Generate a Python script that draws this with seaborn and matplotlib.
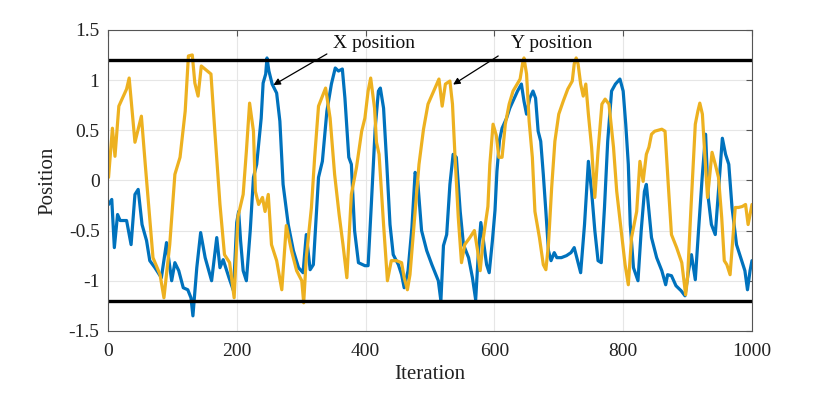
import matplotlib
matplotlib.use("Agg")
import matplotlib.pyplot as plt
import seaborn as sns

# X position (blue) trace: iteration, value
x_iter = [1, 6, 10, 15, 19, 29, 36, 42, 47, 53, 60, 65, 73, 83, 91, 99, 104, 110, 117, 124,
          129, 132, 138, 144, 151, 161, 169, 174, 179, 188, 195, 200, 203, 206, 210, 215, 221,
          226, 231, 238, 241, 245, 247, 250, 255, 262, 267, 272, 280, 288, 296, 303, 308, 314,
          319, 327, 333, 340, 347, 353, 358, 364, 368, 374, 378, 383, 389, 399, 404, 409, 415,
          420, 423, 428, 433, 438, 443, 451, 456, 460, 466, 472, 477, 481, 487, 495, 503, 513,
          517, 521, 526, 531, 536, 541, 547, 552, 560, 566, 571, 575, 579, 583, 588, 592, 597,
          601, 604, 608, 612, 619, 624, 629, 636, 642, 646, 650, 655, 660, 664, 668, 672, 676,
          680, 684, 688, 693, 697, 704, 712, 719, 724, 728, 734, 740, 746, 751, 756, 761, 766,
          771, 776, 782, 788, 795, 800, 804, 808, 811, 816, 823, 828, 833, 836, 840, 844, 852,
          860, 866, 869, 875, 882, 890, 896, 901, 906, 912, 917, 923, 928, 932, 937, 943, 948,
          954, 959, 964, 969, 976, 984, 989, 993, 997, 1000]
x_pos = [-0.24, -0.19, -0.67, -0.34, -0.40, -0.40, -0.64, -0.14, -0.09, -0.44, -0.60, -0.80,
         -0.87, -0.97, -0.62, -1.00, -0.82, -0.90, -1.07, -1.09, -1.17, -1.35, -0.87, -0.52,
         -0.77, -1.00, -0.57, -0.87, -0.79, -0.97, -1.10, -0.42, -0.31, -0.60, -0.90, -1.00,
         -0.50, 0.03, 0.16, 0.62, 0.97, 1.06, 1.22, 1.09, 0.96, 0.87, 0.59, -0.04, -0.44, -0.70,
         -0.87, -0.92, -0.54, -0.89, -0.84, 0.03, 0.19, 0.69, 0.96, 1.12, 1.09, 1.11, 0.82, 0.23,
         0.16, -0.50, -0.82, -0.85, -0.85, -0.24, 0.52, 0.89, 0.92, 0.72, 0.16, -0.44, -0.74,
         -0.84, -0.94, -1.07, -0.90, -0.47, 0.08, -0.01, -0.50, -0.70, -0.84, -1.00, -1.20,
         -0.65, -0.54, -0.04, 0.26, 0.23, -0.31, -0.64, -0.77, -0.97, -1.19, -0.74, -0.42, -0.60,
         -0.84, -0.92, -0.60, -0.30, 0.09, 0.40, 0.52, 0.62, 0.72, 0.79, 0.89, 0.96, 0.79, 0.66,
         0.82, 0.89, 0.82, 0.49, 0.39, 0.06, -0.31, -0.70, -0.80, -0.72, -0.77, -0.77, -0.75,
         -0.72, -0.67, -0.77, -0.92, -0.44, 0.19, -0.11, -0.50, -0.80, -0.82, -0.27, 0.39, 0.89,
         0.96, 1.01, 0.89, 0.56, 0.16, -0.44, -0.87, -1.00, -0.50, -0.11, -0.04, -0.31, -0.57,
         -0.77, -0.90, -1.04, -0.94, -0.95, -1.05, -1.10, -1.15, -0.92, -0.74, -0.99, -0.50, 0.06,
         0.46, -0.17, -0.44, -0.54, -0.11, 0.42, 0.26, 0.16, -0.27, -0.64, -0.80, -0.90, -1.09,
         -0.90, -0.80]

# Y position (orange) trace: iteration, value
y_iter = [1, 7, 11, 17, 29, 33, 42, 52, 58, 70, 81, 87, 96, 104, 112, 120, 125, 131, 135, 140,
          145, 160, 166, 174, 181, 189, 196, 202, 210, 215, 220, 226, 229, 234, 240, 244, 249,
          254, 262, 270, 277, 285, 293, 301, 304, 308, 316, 321, 327, 338, 345, 352, 359, 365,
          371, 378, 386, 394, 399, 404, 408, 414, 417, 421, 428, 434, 440, 448, 456, 460, 465,
          469, 477, 483, 490, 497, 508, 514, 519, 524, 531, 535, 539, 544, 549, 554, 562, 569,
          574, 578, 583, 590, 593, 598, 603, 607, 612, 617, 623, 629, 640, 644, 646, 650, 654,
          659, 663, 670, 676, 680, 684, 689, 694, 700, 707, 714, 721, 724, 727, 730, 734, 738,
          742, 746, 751, 756, 761, 767, 772, 778, 785, 790, 797, 803, 808, 813, 821, 826, 831,
          836, 840, 844, 849, 860, 865, 870, 875, 883, 891, 897, 900, 905, 912, 916, 919, 923,
          927, 931, 935, 938, 943, 948, 953, 957, 961, 966, 974, 979, 985, 990, 994, 1000]
y_pos = [0.03, 0.52, 0.24, 0.74, 0.91, 1.02, 0.38, 0.64, 0.16, -0.77, -0.94, -1.17, -0.64,
         0.06, 0.23, 0.69, 1.24, 1.25, 0.97, 0.84, 1.14, 1.06, 0.49, -0.24, -0.74, -0.82, -1.17,
         -0.36, -0.14, 0.29, 0.77, 0.49, -0.11, -0.24, -0.17, -0.31, -0.14, -0.64, -0.80, -1.09,
         -0.45, -0.70, -0.90, -1.00, -1.22, -0.77, -0.27, 0.23, 0.74, 0.92, 0.62, 0.06, -0.34,
         -0.64, -0.97, -0.14, 0.13, 0.49, 0.62, 0.89, 1.02, 0.72, 0.38, 0.26, -0.44, -1.00,
         -0.80, -0.80, -0.82, -0.97, -1.09, -0.94, -0.31, 0.16, 0.51, 0.76, 0.92, 1.01, 0.74,
         0.96, 0.99, 0.76, 0.23, -0.37, -0.82, -0.64, -0.57, -0.50, -0.70, -0.90, -0.57, -0.26,
         0.16, 0.56, 0.45, 0.23, 0.23, 0.56, 0.76, 0.89, 1.01, 1.17, 1.22, 1.06, 0.59, 0.23,
         -0.31, -0.57, -0.84, -0.89, -0.64, -0.07, 0.39, 0.66, 0.79, 0.91, 0.99, 1.16, 1.22,
         1.16, 0.96, 0.84, 0.96, 0.66, 0.33, -0.17, 0.29, 0.76, 0.81, 0.76, 0.33, -0.11, -0.50,
         -0.84, -1.04, -0.57, -0.31, 0.19, -0.01, 0.26, 0.33, 0.46, 0.49, 0.51, 0.49, -0.04,
         -0.54, -0.67, -0.82, -1.14, -0.97, -0.31, 0.56, 0.69, 0.77, 0.66, 0.23, -0.17, 0.09,
         0.28, 0.16, 0.03, -0.37, -0.80, -0.84, -0.94, -0.27, -0.27, -0.26, -0.24, -0.44, -0.24]

bounds = [-1.2, 1.2]
x_ticks = [0, 200, 400, 600, 800, 1000]
y_ticks = [-1.5, -1, -0.5, 0, 0.5, 1, 1.5]
y_ticklabels = ["-1.5", "-1", "-0.5", "0", "0.5", "1", "1.5"]

sns.set_style("whitegrid")
plt.rcParams['font.family'] = ['Liberation Serif', 'DejaVu Serif']
plt.rcParams['axes.unicode_minus'] = False

fig = plt.figure(figsize=(8.3, 3.93), dpi=100)
ax = fig.add_axes([0.130, 0.158, 0.776, 0.766])

sns.lineplot(x=x_iter, y=x_pos, ax=ax, color="#0072BD", linewidth=2.3,
             solid_joinstyle="round")
sns.lineplot(x=y_iter, y=y_pos, ax=ax, color="#EDB120", linewidth=2.3,
             solid_joinstyle="round")
for b in bounds:
    ax.axhline(b, color="black", linewidth=2.4)

ax.set_xlim(0, 1000)
ax.set_ylim(-1.5, 1.5)
ax.set_xticks(x_ticks)
ax.set_yticks(y_ticks)
ax.set_yticklabels(y_ticklabels)
ax.grid(True, color="#e6e6e6", linewidth=0.8)
for s in ax.spines.values():
    s.set_color("#555555")
    s.set_linewidth(0.8)
ax.tick_params(direction="in", length=4, color="#555555", labelsize=14,
               top=True, right=True, labelcolor="#222222")
ax.tick_params(axis="x", pad=9)
ax.tick_params(axis="y", pad=6)
ax.set_xlabel("Iteration", fontsize=15, color="#222222", labelpad=3)
ax.set_ylabel("Position", fontsize=15, color="#222222", labelpad=8)

arrow = dict(arrowstyle="-|>", color="black", linewidth=0.9, mutation_scale=10,
             shrinkA=0, shrinkB=0)
ax.annotate("", xy=(257, 0.95), xytext=(340, 1.26), arrowprops=arrow)
ax.annotate("", xy=(536, 0.955), xytext=(606, 1.24), arrowprops=arrow)
ax.text(349, 1.36, "X position", fontsize=14, va="center", ha="left", color="#111111")
ax.text(626, 1.36, "Y position", fontsize=14, va="center", ha="left", color="#111111")

fig.savefig("out.png", dpi=100)
